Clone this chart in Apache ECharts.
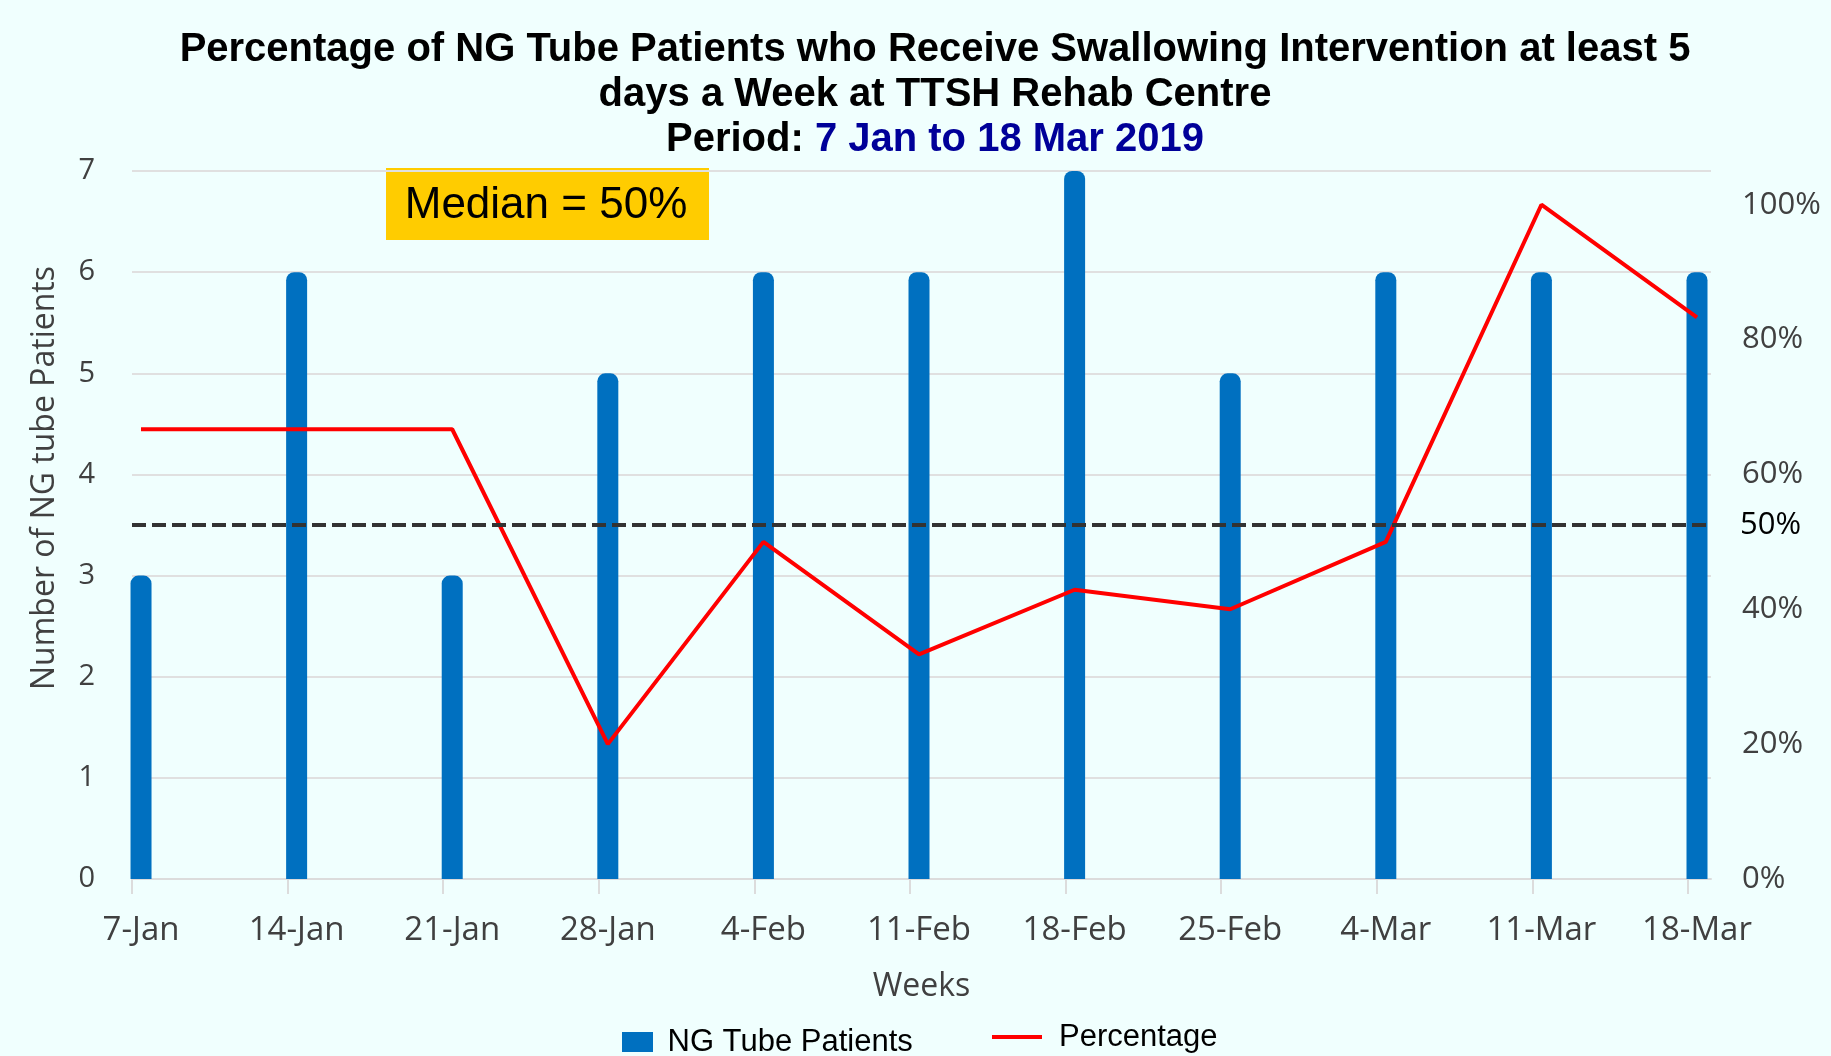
<!DOCTYPE html>
<html>
<head>
<meta charset="utf-8">
<script src="https://cdn.jsdelivr.net/npm/echarts@6/dist/echarts.min.js"></script>
<style>
html,body{margin:0;padding:0;background:#F0FFFE;}
#chart{width:1831px;height:1056px;}
</style>
</head>
<body>
<div id="chart"></div>
<script>
const weeks = ['7-Jan','14-Jan','21-Jan','28-Jan','4-Feb','11-Feb','18-Feb','25-Feb','4-Mar','11-Mar','18-Mar'];
const patients = [3, 6, 3, 5, 6, 6, 7, 5, 6, 6, 6];
const percentage = [66.7, 66.7, 66.7, 20, 50, 33.3, 42.9, 40, 50, 100, 83.3];
const medianLevel = 3.5;
const medianLabel = '50%';
const titleLines = ['Percentage of NG Tube Patients who Receive Swallowing Intervention at least 5', 'days a Week at TTSH Rehab Centre'];
const periodPrefix = 'Period: ';
const periodText = '7 Jan to 18 Mar 2019';
const medianText = 'Median = 50%';

const chart = echarts.init(document.getElementById('chart'));
const axisFont = 'Open Sans';
const tFont = 'Liberation Sans';
const idx = weeks.map((_, i) => i);
const tickShift = 0.058;

chart.setOption({
  backgroundColor: '#F0FFFE',
  animation: false,
  title: {
    left: 930,
    top: 22,
    textAlign: 'center',
    text: '{a|' + titleLines[0] + '}\n{a|' + titleLines[1] + '}\n{a|' + periodPrefix + '}{b|' + periodText + '}',
    textStyle: {
      rich: {
        a: {fontFamily: tFont, fontWeight: 'bold', fontSize: 40, color: '#000000', lineHeight: 45},
        b: {fontFamily: tFont, fontWeight: 'bold', fontSize: 40, color: '#000099', lineHeight: 45}
      }
    }
  },
  legend: [
    {
      left: 617,
      top: 1021,
      itemWidth: 50,
      itemHeight: 20,
      textStyle: {fontFamily: tFont, fontSize: 31, color: '#000000', lineHeight: 32},
      data: [{name: 'NG Tube Patients', icon: 'path://M0,0h31v20h-31z'}]
    },
    {
      left: 987,
      top: 1016,
      itemWidth: 50,
      itemHeight: 20,
      textStyle: {fontFamily: tFont, fontSize: 31, color: '#000000', lineHeight: 32, padding: [0, 0, 0, 12]},
      data: [{name: 'Percentage', icon: 'path://M0,0h50v4h-50z'}]
    }
  ],
  grid: {left: 132, right: 120, top: 171, height: 708},
  xAxis: {
    type: 'value',
    min: -tickShift,
    max: weeks.length - 1 + 0.09,
    name: 'Weeks',
    nameLocation: 'middle',
    nameGap: 92,
    nameTextStyle: {fontFamily: axisFont, fontSize: 32, color: '#404040'},
    splitLine: {show: false},
    axisLine: {lineStyle: {color: '#DCDCDC', width: 2}},
    axisTick: {show: true, length: 15, lineStyle: {color: '#DCDCDC', width: 2},
      customValues: idx.map(i => i - tickShift)},
    axisLabel: {fontFamily: axisFont, fontSize: 33, color: '#404040', margin: 35,
      customValues: idx, formatter: v => weeks[Math.round(v)]}
  },
  yAxis: [
    {
      type: 'value', min: 0, max: 7, interval: 1,
      axisLine: {show: false}, axisTick: {show: false},
      splitLine: {lineStyle: {color: '#E0E0E0', width: 2}},
      axisLabel: {fontFamily: axisFont, fontSize: 29, color: '#404040', margin: 37}
    },
    {
      type: 'value', min: 0, max: 105, interval: 20,
      axisLine: {show: false}, axisTick: {show: false}, splitLine: {show: false},
      axisLabel: {fontFamily: axisFont, fontSize: 31, color: '#404040', margin: 31, showMaxLabel: false,
        formatter: v => v + '%'}
    }
  ],
  series: [
    {
      name: 'NG Tube Patients',
      type: 'bar',
      data: patients.map((v, i) => [i, v]),
      barWidth: 21,
      clip: false,
      itemStyle: {color: '#0070C0', borderRadius: [8, 8, 0, 0]},
      markLine: {
        silent: true,
        symbol: 'none',
        lineStyle: {color: '#333333', width: 4, type: [14, 6]},
        label: {show: true, position: 'end', formatter: medianLabel, distance: 29,
          fontFamily: axisFont, fontSize: 31, color: '#000000'},
        data: [{yAxis: medianLevel}]
      }
    },
    {
      name: 'Percentage',
      type: 'line',
      yAxisIndex: 1,
      data: percentage.map((v, i) => [i, v]),
      symbol: 'none',
      lineStyle: {color: '#FF0000', width: 4},
      itemStyle: {color: '#FF0000'}
    }
  ],
  graphic: [
    {type: 'rect', shape: {x: 386, y: 168, width: 323, height: 72}, style: {fill: '#FFCC00'}},
    {type: 'text', x: 546, y: 206, style: {text: medianText, fontFamily: tFont, fontSize: 44, fill: '#000000', textAlign: 'center', textVerticalAlign: 'middle'}},
    {type: 'text', x: 45, y: 478, rotation: Math.PI / 2, style: {text: 'Number of NG tube Patients', fontFamily: axisFont, fontSize: 32, fill: '#404040', textAlign: 'center', textVerticalAlign: 'middle'}}
  ]
});
</script>
</body>
</html>
